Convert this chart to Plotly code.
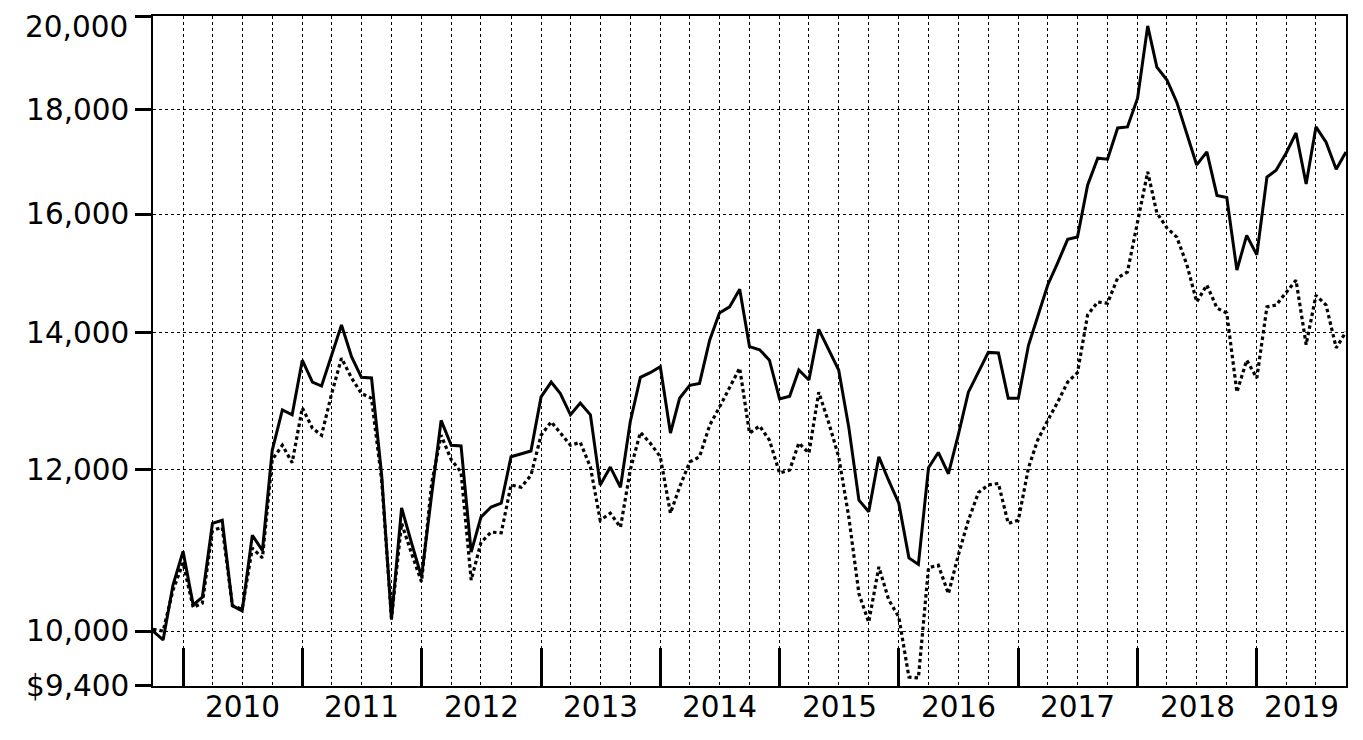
import math
import pandas as pd
import plotly.graph_objects as go

# Monthly values, Oct 2009 .. Oct 2019
start_month = "2009-10-01"
n_months = 121

solid_values = [
    10000, 9900, 10530, 10940, 10300, 10390, 11290, 11330, 10290, 10230,
    11140, 10950, 12260, 12830, 12760, 13570, 13240, 13180, 13650, 14120,
    13620, 13310, 13300, 11920, 10130, 11490, 11050, 10630, 11660, 12680,
    12330, 12320, 10930, 11370, 11500, 11550, 12170, 12210, 12250, 13020,
    13240, 13070, 12760, 12930, 12760, 11790, 12030, 11760, 12660, 13310,
    13380, 13470, 12500, 13000, 13190, 13220, 13880, 14310, 14410, 14700,
    13780, 13730, 13570, 12990, 13030, 13420, 13270, 14050, 13720, 13420,
    12580, 11590, 11440, 12170, 11850, 11550, 10860, 10780, 12020, 12230,
    11940, 12470, 13090, 13390, 13690, 13680, 13000, 13000, 13800, 14250,
    14770, 15140, 15550, 15590, 16530, 17040, 17020, 17630, 17650, 18230,
    19780, 18880, 18610, 18150, 17530, 16910, 17160, 16340, 16300, 15020,
    15620, 15280, 16680, 16810, 17140, 17530, 16550, 17650, 17350, 16830,
    17160,
]

dotted_values = [
    10020, 10000, 10470, 10800, 10270, 10320, 11200, 11240, 10290, 10250,
    10980, 10860, 12130, 12330, 12090, 12860, 12570, 12470, 13070, 13600,
    13300, 13070, 13000, 11850, 10150, 11290, 10920, 10570, 11810, 12470,
    12130, 11960, 10590, 11050, 11180, 11170, 11790, 11760, 11920, 12470,
    12660, 12500, 12330, 12370, 12030, 11330, 11420, 11240, 11990, 12510,
    12360, 12170, 11420, 11760, 12100, 12170, 12610, 12870, 13160, 13450,
    12500, 12600, 12400, 11950, 11990, 12360, 12220, 13090, 12640, 12170,
    11370, 10430, 10100, 10750, 10360, 10160, 9495, 9485, 10740, 10770,
    10430, 10890, 11330, 11690, 11790, 11810, 11290, 11330, 12020, 12400,
    12680, 12940, 13240, 13380, 14280, 14490, 14470, 14890, 14990, 15860,
    16780, 16020, 15750, 15590, 15110, 14490, 14770, 14390, 14310, 13090,
    13570, 13300, 14410, 14440, 14650, 14850, 13810, 14600, 14440, 13760,
    14010,
]

y_tick_values = [9400, 10000, 12000, 14000, 16000, 18000, 20000]
y_tick_labels = ["$9,400", "10,000", "12,000", "14,000", "16,000", "18,000", "20,000"]
year_labels = ["2010", "2011", "2012", "2013", "2014", "2015", "2016", "2017", "2018", "2019"]

dates = pd.date_range(start_month, periods=n_months, freq="MS")
x_start, x_end = dates[0], dates[-1]

FONT = "DejaVu Sans"
FS = 29.5

fig = go.Figure()
fig.add_trace(go.Scatter(x=dates, y=dotted_values, mode="lines",
                         line=dict(color="black", width=3.2, dash="3.5px,3px"),
                         hoverinfo="skip", showlegend=False))
fig.add_trace(go.Scatter(x=dates, y=solid_values, mode="lines",
                         line=dict(color="black", width=3),
                         hoverinfo="skip", showlegend=False))

annotations = []
for lab in year_labels:
    y = int(lab)
    a = max(pd.Timestamp(f"{y}-01-01"), x_start)
    b = min(pd.Timestamp(f"{y + 1}-01-01"), x_end)
    mid = a + (b - a) / 2
    annotations.append(dict(x=mid, xref="x", y=0, yref="paper", yanchor="middle",
                            yshift=-21, text=lab, showarrow=False,
                            font=dict(family=FONT, size=FS, color="black")))

# the top tick label sits at the very top edge; draw it as an annotation
# anchored to the top so it is not clipped
top_label = y_tick_labels[-1]
axis_labels = y_tick_labels[:-1] + [""]
annotations.append(dict(x=0, xref="paper", xanchor="right", xshift=-23,
                        y=1, yref="paper", yanchor="top", yshift=8,
                        text=top_label, showarrow=False,
                        font=dict(family=FONT, size=FS, color="black")))

eps = 2e-5
fig.update_layout(
    width=1355, height=732,
    margin=dict(l=145, r=17, t=8, b=54, autoexpand=False),
    paper_bgcolor="white", plot_bgcolor="white",
    font=dict(family=FONT, size=FS, color="black"),
    annotations=annotations,
    xaxis=dict(
        type="date",
        range=[x_start, x_end],
        tickmode="linear", tick0="2010-01-01", dtick="M12",
        ticks="inside", ticklen=38, tickwidth=3, tickcolor="black",
        showticklabels=False, automargin=False,
        showgrid=True, gridcolor="black", gridwidth=1, griddash="dot",
        minor=dict(tick0="2009-10-01", dtick="M3", showgrid=True, gridcolor="black",
                   gridwidth=1, griddash="dot", ticks=""),
        showline=True, linecolor="black", linewidth=1.5, mirror=True,
        zeroline=False,
    ),
    yaxis=dict(
        type="log",
        range=[math.log10(9400) - eps, math.log10(20000) + eps],
        tickmode="array", tickvals=y_tick_values, ticktext=axis_labels,
        ticks="outside", ticklen=16, tickwidth=3, tickcolor="black",
        tickfont=dict(family=FONT, size=FS, color="black"),
        ticklabeloverflow="allow", automargin=False,
        showgrid=True, gridcolor="black", gridwidth=1, griddash="dot",
        showline=True, linecolor="black", linewidth=1.5, mirror=True,
        zeroline=False,
    ),
)

fig.write_html("out.html")
